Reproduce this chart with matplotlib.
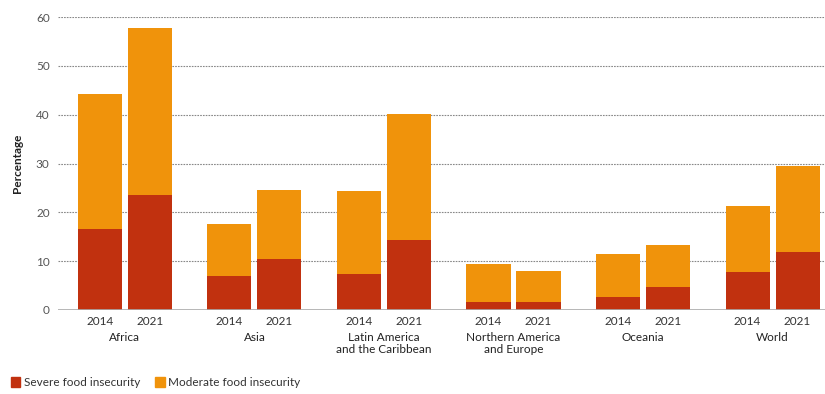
import numpy as np
import matplotlib
matplotlib.use("Agg")
import matplotlib.pyplot as plt
from matplotlib.patches import Patch

plt.rcParams["font.family"] = ["Lato", "DejaVu Sans"]

# Data
regions = ["Africa", "Asia", "Latin America\nand the Caribbean",
           "Northern America\nand Europe", "Oceania", "World"]
years = ["2014", "2021"]
severe_2014 = [16.6, 7.0, 7.4, 1.6, 2.7, 7.8]
severe_2021 = [23.5, 10.4, 14.3, 1.6, 4.7, 11.9]
total_2014 = [44.2, 17.6, 24.4, 9.4, 11.5, 21.3]
total_2021 = [57.8, 24.6, 40.1, 8.0, 13.3, 29.5]

severe_col = "#C1310F"
moderate_col = "#F0930B"
grey = "#555555"

fig = plt.figure(figsize=(8.25, 3.94), dpi=100)
ax = fig.add_axes([58 / 825, 1 - 310 / 394, 1 - 58 / 825, 293 / 394])

x = np.arange(len(regions))
off = 0.193
w = 0.34

# Moderate = total - severe, stacked on top of severe
mod_2014 = np.array(total_2014) - np.array(severe_2014)
mod_2021 = np.array(total_2021) - np.array(severe_2021)

ax.bar(x - off, severe_2014, w, color=severe_col, zorder=3)
ax.bar(x - off, mod_2014, w, bottom=severe_2014, color=moderate_col, zorder=3)
ax.bar(x + off, severe_2021, w, color=severe_col, zorder=3)
ax.bar(x + off, mod_2021, w, bottom=severe_2021, color=moderate_col, zorder=3)

ax.set_xlim(-0.517, 5.405)
ax.set_ylim(0, 60)
ax.set_yticks([0, 10, 20, 30, 40, 50, 60])
ax.tick_params(axis="y", length=0, labelsize=8.5, labelcolor=grey, pad=6)

# dotted gridlines
for yv in [10, 20, 30, 40, 50, 60]:
    ax.axhline(yv, color="#888888", lw=0.8, ls=(0, (1.5, 1)), zorder=1)
ax.axhline(0, color="#aaaaaa", lw=1.2, zorder=4)

for s in ax.spines.values():
    s.set_visible(False)

ticks = np.concatenate([x - off, x + off])
labels = [years[0]] * len(x) + [years[1]] * len(x)
ax.set_xticks(ticks)
ax.set_xticklabels(labels)
ax.tick_params(axis="x", length=0, labelsize=8.5, labelcolor="#333333", pad=4)

for xi, name in zip(x, regions):
    ax.text(xi, -0.075, name, transform=ax.get_xaxis_transform(),
            ha="center", va="top", fontsize=8.5, color="#222222",
            linespacing=1.15)

ax.set_ylabel("Percentage", fontsize=8.5, fontweight="bold", color="#222222",
              labelpad=9)

handles = [Patch(color=severe_col, label="Severe food insecurity"),
           Patch(color=moderate_col, label="Moderate food insecurity")]
fig.legend(handles=handles, loc="lower left", bbox_to_anchor=(0.0, -0.012),
           ncol=2, frameon=False, fontsize=8.5, handlelength=0.8,
           handleheight=0.8, handletextpad=0.3, columnspacing=1.3,
           labelcolor="#333333")

fig.savefig("out.png", dpi=100)
